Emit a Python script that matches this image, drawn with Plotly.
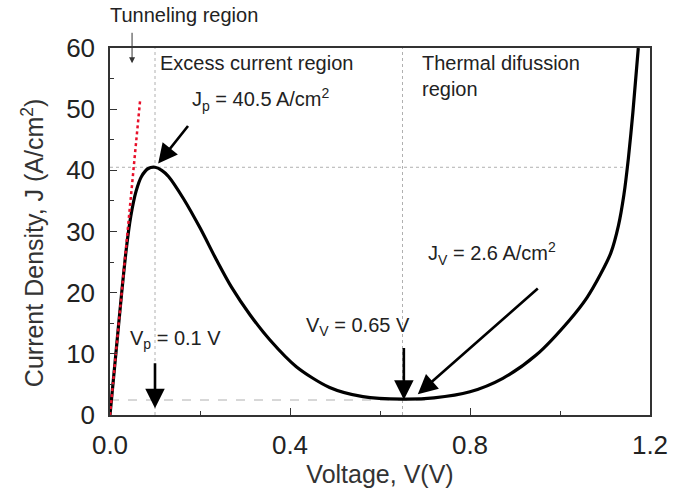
import plotly.graph_objects as go

# Main J-V curve
voltage = [0, 0.013, 0.026, 0.036, 0.046, 0.058, 0.07, 0.085, 0.1, 0.115, 0.13,
           0.163, 0.2, 0.237, 0.27, 0.311, 0.355, 0.414, 0.488, 0.562, 0.65,
           0.72, 0.8, 0.873, 0.947, 1.021, 1.06, 1.09, 1.113, 1.13, 1.142,
           1.152, 1.162, 1.174]
current = [0, 10.0, 20.0, 27.0, 32.4, 36.6, 39.0, 40.3, 40.5, 40.0, 39.0,
           35.4, 30.6, 25.3, 20.9, 16.4, 12.3, 7.9, 4.5, 3.0, 2.6,
           2.8, 3.8, 6.0, 9.8, 15.5, 19.2, 23.0, 26.5, 31.0, 36.0,
           42.0, 49.5, 60.0]

# Tunneling fit (red dotted)
tunnel_v = [0, 0.067]
tunnel_j = [0, 51.5]

# Reference values
v_peak, j_peak = 0.1, 40.5
v_valley, j_valley = 0.65, 2.6

x_ticks = [0.0, 0.4, 0.8, 1.2]
x_ticklabels = ["0.0", "0.4", "0.8", "1.2"]
y_ticks = [0, 10, 20, 30, 40, 50, 60]

FONT = "Arial, Liberation Sans, sans-serif"
GRAY = "#b0b0b0"

fig = go.Figure()

# guide lines
fig.add_trace(go.Scatter(x=[v_peak, v_peak], y=[0, 60], mode="lines",
                         line=dict(color=GRAY, width=1, dash="dot"), hoverinfo="skip"))
fig.add_trace(go.Scatter(x=[v_valley, v_valley], y=[0, 60], mode="lines",
                         line=dict(color=GRAY, width=1, dash="dot"), hoverinfo="skip"))
fig.add_trace(go.Scatter(x=[0, 1.148], y=[j_peak, j_peak], mode="lines",
                         line=dict(color=GRAY, width=1, dash="dot"), hoverinfo="skip"))
fig.add_trace(go.Scatter(x=[0, 0.7], y=[2.45, 2.45], mode="lines",
                         line=dict(color=GRAY, width=1, dash="dash"), hoverinfo="skip"))

fig.add_trace(go.Scatter(x=voltage, y=current, mode="lines",
                         line=dict(color="black", width=3.2, shape="spline", smoothing=0.8)))
fig.add_trace(go.Scatter(x=tunnel_v, y=tunnel_j, mode="lines",
                         line=dict(color="#e8102a", width=2.5, dash="dot")))

ann_font = dict(family=FONT, size=20, color="#222")
annotations = [
    dict(x=0.0, y=1.09, xref="x", yref="paper", text="Tunneling region",
         showarrow=False, xanchor="left", yanchor="middle", xshift=-2),
    dict(x=0.107, y=57.6, text="Excess current region", showarrow=False,
         xanchor="left", yanchor="middle"),
    dict(x=0.688, y=55.5, text="Thermal difussion<br>region", showarrow=False,
         xanchor="left", yanchor="middle", align="left"),
    dict(x=0.178, y=51.5, text="J<sub>p</sub> = 40.5 A/cm<sup>2</sup>", showarrow=False,
         xanchor="left", yanchor="middle"),
    dict(x=0.041, y=12.3, text="V<sub>p</sub> = 0.1 V", showarrow=False,
         xanchor="left", yanchor="middle"),
    dict(x=0.431, y=14.4, text="V<sub>V</sub> = 0.65 V", showarrow=False,
         xanchor="left", yanchor="middle"),
    dict(x=0.703, y=26.4, text="J<sub>V</sub> = 2.6 A/cm<sup>2</sup>", showarrow=False,
         xanchor="left", yanchor="middle"),
]
for a in annotations:
    a.setdefault("xref", "x")
    a.setdefault("yref", "y")
    a["font"] = ann_font

# y-axis title placed as rotated text
annotations.append(dict(x=-0.1426, y=0.471, xref="paper", yref="paper",
                        text="Current Density, J (A/cm<sup>2</sup>)", textangle=-90,
                        showarrow=False, xanchor="center", yanchor="middle",
                        font=dict(family=FONT, size=25, color="#333")))

arrows = [
    # (tip_x, tip_y, tail_x, tail_y, width, size)
    (0.107, 41.1, 0.176, 47.5, 2.6, 1.5),
    (0.1, 1.1, 0.1, 8.7, 2.6, 1.5),
    (0.653, 2.5, 0.653, 11.2, 2.6, 1.5),
    (0.684, 3.4, 0.954, 20.9, 2.6, 1.5),
]
for tx, ty, sx, sy, w, s in arrows:
    annotations.append(dict(x=tx, y=ty, ax=sx, ay=sy, xref="x", yref="y",
                            axref="x", ayref="y", showarrow=True, arrowhead=2,
                            arrowsize=s, arrowwidth=w, arrowcolor="black", text=""))
# thin tunneling arrow
annotations.append(dict(x=0.049, y=57.5, ax=0, ay=-32, xref="x", yref="y",
                        axref="pixel", ayref="pixel", showarrow=True, arrowhead=2,
                        arrowsize=1.2, arrowwidth=1, arrowcolor="#333", text=""))

axis_common = dict(showgrid=False, zeroline=False, showline=True, linecolor="#333",
                   linewidth=1.5, mirror=True, ticks="inside", tickcolor="#333",
                   ticklen=7, tickwidth=1.2,
                   tickfont=dict(family=FONT, size=26, color="#222"))

fig.update_layout(
    width=692, height=498,
    margin=dict(l=110, r=42, t=48, b=83),
    paper_bgcolor="white", plot_bgcolor="white",
    showlegend=False,
    annotations=annotations,
    xaxis=dict(range=[0, 1.2], tickvals=x_ticks, ticktext=x_ticklabels,
               minor=dict(dtick=0.2, ticks="inside", ticklen=4, tickcolor="#333"),
               title=dict(text="Voltage, V(V)", font=dict(family=FONT, size=25, color="#333"),
                          standoff=6),
               ticklabelstandoff=6, **axis_common),
    yaxis=dict(range=[0, 60], tickvals=y_ticks,
               minor=dict(dtick=5, ticks="inside", ticklen=4, tickcolor="#333"),
               ticklabelstandoff=8, **axis_common),
)

fig.write_html("out.html")
